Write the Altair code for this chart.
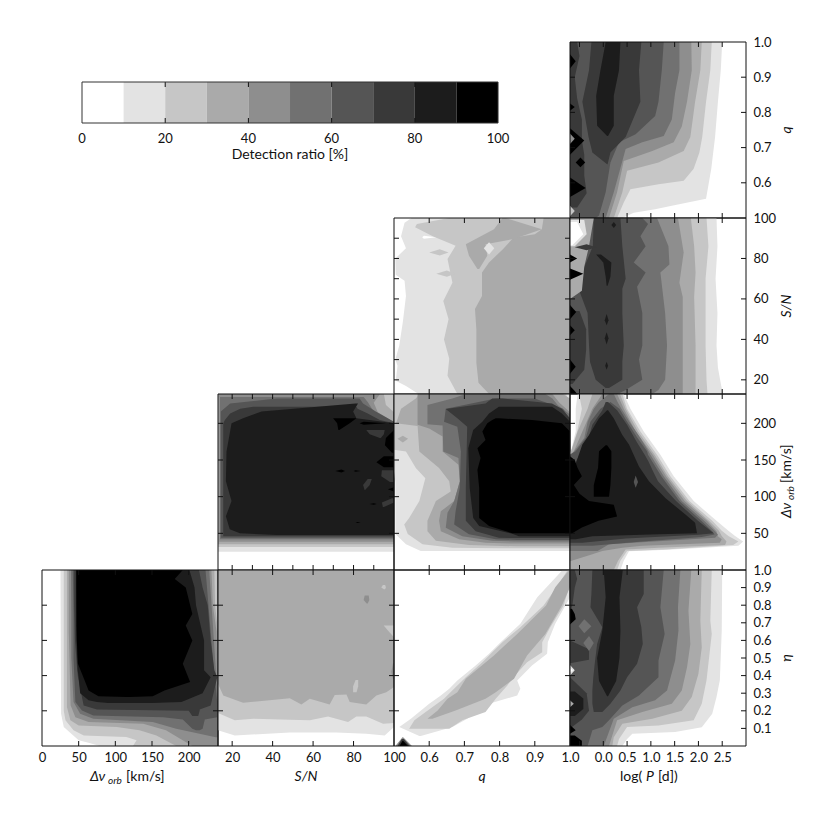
import altair as alt
import pandas as pd

FONT = "Lato"
GRAYS = ["#ffffff", "#e3e3e3", "#c6c6c6", "#aaaaaa", "#8e8e8e", "#717171", "#555555", "#393939", "#1c1c1c", "#000000"]
LEVELS = list(range(10))
BAR_EDGES = [0, 10, 20, 30, 40, 50, 60, 70, 80, 90, 100]
BAR_LABELS = [0, 20, 40, 60, 80, 100]
BAR_TICKS = [20, 40, 60, 80]

DV_DOM = [0, 240]
SN_DOM = [13, 100]
Q_DOM = [0.5, 1.0]
P_DOM = [-0.7, 3.0]
ETA_DOM = [0, 1]

P_TICKS = [-0.5, 0, 0.5, 1, 1.5, 2, 2.5]
P_LABELS = [0, 0.5, 1, 1.5, 2, 2.5]
Q_TICKS = [0.6, 0.7, 0.8, 0.9]
Q_LABELS = [0.6, 0.7, 0.8, 0.9, 1.0]
SN_TICKS10 = [20, 30, 40, 50, 60, 70, 80, 90]
SN_TICKS20 = [20, 40, 60, 80]
SN_LABELS = [20, 40, 60, 80, 100]
DV_TICKS = [50, 100, 150, 200]
DV_LABELS = [0, 50, 100, 150, 200]
ETA_TICKS2 = [0.2, 0.4, 0.6, 0.8]
ETA_TICKS1 = [0.1, 0.2, 0.3, 0.4, 0.5, 0.6, 0.7, 0.8, 0.9]
ETA_LABELS = [0.1, 0.2, 0.3, 0.4, 0.5, 0.6, 0.7, 0.8, 0.9, 1.0]

# Each band: (level, rows along y, left boundaries, right boundaries)
Q_P = [
    (1, [1, .92, .83, .73, .64, .555, .535, .525, .515, .5], -.7, [2.5, 2.47, 2.41, 2.35, 2.27, 2.16, 1.44, 1.09, .64, .40]),
    (2, [1, .92, .83, .73, .686, .64, .606, .596, .582, .544, .5], -.7, [2.28, 2.25, 2.16, 2.08, 2.02, 1.9, 1.69, 1.16, .57, .43, .29]),
    (3, [1, .92, .83, .73, .69, .658, .634, .573, .5], -.7, [2.07, 2.04, 1.93, 1.83, 1.69, 1.16, .5, .4, .22]),
    (4, [1, .92, .83, .76, .715, .69, .662, .573, .5], -.7, [1.85, 1.86, 1.76, 1.65, 1.48, 1.03, .43, .29, .12]),
    (5, [1, .92, .856, .78, .733, .715, .696, .573, .5], -.7, [1.6, 1.6, 1.51, 1.44, 1.27, .82, .47, .22, .05]),
    (6, [1, .92, .83, .79, .738, .715, .658, .573, .507, .5], -.7, [1.27, 1.23, 1.16, 1.09, .68, .33, .15, .05, -.09, -.16]),
    (7, [1, .92, .83, .73, .686, .653], [-.25, -.3, -.44, -.31, -.23, .08], [.8, .75, .78, .47, .15, .09]),
    (8, [1, .92, .847, .762, .733], [.05, -.06, -.15, -.13, .08], [.36, .33, .22, .22, .1]),
    (7, [1, .96, .9, .84, .78, .72, .68, .62, .57, .53], -.7, [-.55, -.5, -.6, -.55, -.45, -.45, -.4, -.4, -.35, -.55]),
    (9, [.965, .945, .925], -.7, [-.7, -.58, -.7]),
    (9, [.825, .815, .805], -.7, [-.7, -.6, -.7]),
    (9, [.755, .72, .68], -.7, [-.7, -.4, -.7]),
    (4, [.74, .725, .71], -.7, [-.7, -.6, -.7]),
    (9, [.672, .658, .644], [-.48, -.58, -.48], [-.48, -.38, -.48]),
    (9, [.615, .585, .56], -.7, [-.7, -.37, -.7]),
    (2, [.535, .52, .505], -.7, [-.7, -.6, -.7]),
]

SN_P = [
    (1, [100, 86, 70, 53, 37, 26, 17, 13], -.7, [2.38, 2.4, 2.36, 2.4, 2.38, 2.41, 2.48, 2.52]),
    (2, [100, 86, 70, 53, 37, 20, 13], -.7, [2.17, 2.21, 2.15, 2.15, 2.15, 2.17, 2.19]),
    (3, [100, 86, 73, 61, 37, 20, 13], -.7, [1.84, 1.91, 1.94, 1.91, 1.94, 1.94, 1.94]),
    (4, [100, 83, 68, 61, 37, 13], -.7, [1.57, 1.69, 1.6, 1.67, 1.67, 1.67]),
    (5, [100, 86, 77, 73, 53, 37, 20, 15, 13], -.7, [1.13, 1.37, 1.39, 1.2, 1.3, 1.34, 1.3, 1.16, 1.03]),
    (6, [100, 97, 91, 86, 78, 73, 66, 53, 37, 30, 20, 15, 13], -.7, [.82, .94, .78, .89, .64, .89, .71, .82, .82, .75, .82, .47, .3]),
    (7, [100, 86, 70, 65, 53, 37, 29, 20, 16], [-.2, -.22, -.5, -.52, -.33, -.3, -.28, -.16, .05], [.36, .4, .47, .4, .4, .43, .4, .4, .12]),
    (8, [82, 78, 71, 66.5], [-.15, 0, .05, .07], [-.05, .17, .15, .09]),
    (8, [52.5, 49.5, 47], [.07, .03, .07], [.07, .11, .07]),
    (8, [43.5, 40.5, 37.5], [.07, .03, .07], [.07, .11, .07]),
    (8, [29, 27, 25], [.07, .04, .07], [.07, .1, .07]),
    (8, [98, 96.5, 95], [.22, .17, .22], [.22, .27, .22]),
    (7, [54, 45, 35, 25, 18], -.7, [-.5, -.36, -.36, -.4, -.65]),
    (3, [100, 86, 76, 64, 60], -.7, [-.2, -.3, -.4, -.45, -.7]),
    (1, [99, 92, 86], -.7, [-.4, -.35, -.6]),
    (0, [98, 92, 86.5], -.7, [-.55, -.42, -.65]),
    (7, [87, 85.5, 84], [-.35, -.6, -.35], [-.35, -.15, -.35]),
    (9, [75, 72.5, 69.5], -.7, [-.7, -.42, -.7]),
    (9, [82, 80, 78], -.7, [-.7, -.55, -.7]),
    (9, [57, 53.5, 50], -.7, [-.7, -.57, -.7]),
    (9, [47, 44.5, 42], -.7, [-.7, -.6, -.7]),
    (9, [30, 26.5, 23], -.7, [-.7, -.58, -.7]),
    (9, [17, 14.5, 13], -.7, [-.7, -.6, -.55]),
]

DV_P = [
    (1, [240, 220, 189, 157, 128, 94, 67, 53.5, 46.5, 39, 33, 27.5, 25.5, 12.5, 0], [-.54, -.58, -.58, -.7, -.7, -.7, -.7, -.7, -.7, -.7, -.7, -.7, -.7, -.7, -.7], [.43, .57, .85, 1.2, 1.48, 1.9, 2.38, 2.63, 2.77, 2.94, 2.84, 1.37, .54, .43, .36]),
    (2, [240, 220, 189, 157, 128, 94, 67, 53.5, 46.5, 39, 34, 28, 26, 12.5, 0], [-.51, -.45, -.55, -.7, -.7, -.7, -.7, -.7, -.7, -.7, -.7, -.7, -.7, -.7, -.7], [.4, .5, .78, 1.13, 1.41, 1.81, 2.29, 2.49, 2.63, 2.84, 2.73, 1.3, .5, .36, .29]),
    (3, [240, 220, 189, 157, 128, 94, 67, 53.5, 46.5, 39, 34, 30.5, 28, 12.5, 0], [-.23, -.33, -.54, -.7, -.7, -.7, -.7, -.7, -.7, -.7, -.7, -.7, -.7, -.7, -.7], [.35, .47, .73, 1.08, 1.36, 1.76, 2.22, 2.43, 2.49, 2.59, 2.56, 1.16, .47, .31, .22]),
    (4, [240, 220, 189, 157, 128, 94, 67, 53, 46, 42, 37, 33, 30.5, 26, 21.5, 12], [-.02, -.23, -.44, -.65, -.7, -.7, -.7, -.7, -.7, -.7, -.7, -.7, -.7, -.7, -.7, -.7], [.29, .43, .68, 1.04, 1.32, 1.71, 2.18, 2.38, 2.41, 2.49, 2.45, .82, .4, -.02, -.23, -.7]),
    (5, [240, 229, 220, 202, 180, 162, 157, 128, 94, 67, 53, 48, 44, 35, 26], [.12, -.09, -.2, -.33, -.4, -.61, -.7, -.7, -.7, -.7, -.7, -.7, -.7, -.7, -.7], [.22, .3, .38, .55, .78, .95, .99, 1.27, 1.65, 2.12, 2.35, 2.41, 2.35, .12, -.12]),
    (6, [229, 220, 202, 180, 162, 157, 128, 94, 67, 53, 48.5, 45, 39, 33], [.15, -.06, -.27, -.37, -.58, -.7, -.7, -.7, -.7, -.7, -.7, -.7, -.7, -.7], [.15, .34, .5, .72, .92, .94, 1.22, 1.6, 2.06, 2.29, 2.34, 2.07, .82, -.23]),
    (7, [229, 218, 198, 175, 157, 148, 134, 121, 94, 67, 50, 48, 43, 37], [.05, -.02, -.23, -.33, -.5, -.57, -.5, -.7, -.7, -.7, -.7, -.7, -.7, -.7], [.1, .29, .5, .7, .87, .95, 1.05, 1.15, 1.53, 1.99, 2.32, 2.0, .47, -.44]),
    (8, [218, 207, 184, 171, 141, 121, 98, 76, 64.5, 50, 48.6, 46, 42], [.08, -.09, -.3, -.44, -.6, -.7, -.7, -.7, -.7, -.7, -.7, -.7, -.7], [.1, .22, .4, .54, .75, .96, 1.31, 1.72, 1.93, 1.97, 1.16, -.23, -.58]),
    (9, [170, 162, 139.5, 116, 100], [.05, -.09, -.11, -.2, -.2], [.08, .17, .17, .15, .12]),
    (9, [155, 150, 139, 128, 116, 104, 94, 89, 73, 67, 58, 49], -.7, [-.7, -.6, -.54, -.45, -.62, -.5, -.3, .22, .29, -.1, -.45, -.68]),
    (6, [129, 120, 112], [.68, .64, .68], [.68, .73, .68]),
]

ETA_P = [
    (1, [1, .656, .373, .278, .183, .107, .079, .07, .04, 0], -.7, [2.5, 2.49, 2.45, 2.38, 2.29, 2.07, 1.51, .61, .5, .4]),
    (2, [1, .713, .637, .373, .24, .146, .117, .108, .04, 0], -.7, [2.28, 2.25, 2.28, 2.17, 2.07, 1.9, 1.16, .5, .33, .29]),
    (3, [1, .713, .56, .41, .278, .2, .155, .127, .05, 0], -.7, [2.07, 2.04, 2.07, 2.0, 1.86, 1.65, 1.03, .4, .22, .19]),
    (4, [1, .77, .58, .448, .316, .24, .193, .146, 0], -.7, [1.85, 1.79, 1.83, 1.76, 1.65, 1.44, .82, .29, .12]),
    (5, [1, .788, .656, .486, .316, .26, .22, .155, 0], -.7, [1.62, 1.57, 1.58, 1.51, 1.34, 1.09, .61, .22, .01]),
    (6, [1, .788, .637, .486, .39, .287, .23, .146, .108, .09, 0], -.7, [1.27, 1.2, 1.29, 1.16, 1.16, .75, .4, .12, -.02, -.23, -.33]),
    (7, [1, .864, .788, .675, .58, .467, .39, .316, .24, .193], [-.23, -.25, -.27, -.02, -.13, -.18, -.21, -.23, -.23, -.2], [.85, .85, .71, .8, .83, .71, .5, .36, .15, -.02]),
    (8, [1, .845, .656, .5, .37, .282], [.01, .05, -.02, -.13, -.09, .08], [.41, .34, .36, .34, .27, .1]),
    (7, [1, .95, .9, .8, .76], -.7, [-.6, -.55, -.6, -.65, -.7]),
    (7, [.6, .55, .49, .47], -.7, [-.7, -.3, -.3, -.7]),
    (7, [.39, .3, .2, .15, .1], -.7, [-.7, -.35, -.3, -.45, -.7]),
    (5, [.72, .68, .64], [-.4, -.52, -.4], [-.4, -.25, -.4]),
    (5, [.625, .585, .54], [-.3, -.42, -.3], [-.3, -.2, -.3]),
    (9, [.78, .75, .72, .69], -.7, [-.66, -.6, -.58, -.7]),
    (8, [.31, .27, .21, .17], -.7, [-.6, -.42, -.42, -.6]),
    (1, [.46, .43, .4], -.7, [-.7, -.6, -.7]),
    (0, [.44, .43, .42], -.7, [-.68, -.64, -.68]),
    (3, [.26, .24, .22], -.7, [-.7, -.62, -.7]),
    (9, [.06, .03, 0], -.7, [-.6, -.45, -.45]),
    (9, [.12, .09, .07], -.7, [-.7, -.58, -.7]),
]

SN_Q = [
    (1, [100, 97.7, 91, 85, 80, 72, 69, 61.5, 48.5, 37, 30, 27, 19.5, 17, 13], [.55, .53, .52, .534, .504, .505, .53, .534, .525, .515, .504, .51, .505, .534, .57], 1),
    (2, [100, 97, 95.4, 91, 86.3, 79.7, 68, 59, 50, 40, 30.4, 22, 13], [.657, .565, .56, .61, .675, .652, .666, .64, .655, .642, .657, .652, .68], 1),
    (3, [100, 94.5, 92, 90.4, 84.7, 78, 73, 61.5, 55, 45, 28.5, 18.6, 13], [.925, .92, .9, .84, .81, .77, .75, .75, .73, .734, .734, .74, .77], 1),
    (3, [100, 94.5, 89.6, 87, 81.4, 74.8], [.808, .784, .732, .704, .713, .737], [.817, .92, .84, .76, .765, .742]),
    (1, [88, 85, 82], [.77, .755, .77], [.77, .785, .77]),
    (2, [84.5, 83, 81.5], [.63, .6, .63], [.63, .655, .63]),
    (2, [74, 72.5, 71], [.65, .62, .65], [.65, .675, .65]),
    (0, [91.2, 90.5, 89.8], [.585, .58, .585], [.585, .62, .585]),
]

DV_Q = [
    (1, [240, 220, 134, 120, 49, 35, 26], [.5, .5, .5, .504, .504, .534, .576], 1),
    (2, [240, 164, 161.5, 139, 125, 94, 71, 62, 49, 35, 30.5, 29.5], [.5, .5, .534, .562, .589, .572, .543, .529, .539, .581, .666, .8], [.99, 1, 1, 1, 1, 1, 1, 1, 1, 1, 1, 1]),
    (3, [240, 234, 220, 200, 196.4, 161.6, 139, 121, 107, 94, 67, 53, 40, 34, 32.3], [.572, .562, .52, .506, .567, .572, .628, .657, .661, .619, .595, .595, .619, .713, .85], [.98, 1, 1, 1, 1, 1, 1, 1, 1, 1, 1, 1, 1, 1, 1]),
    (3, [183, 179, 174], [.525, .51, .525], [.525, .54, .525]),
    (4, [240, 228, 215, 198, 193, 182, 161.6, 143.5, 121, 94, 80, 67, 53, 42, 37, 36], [.567, .567, .567, .567, .6, .638, .638, .683, .687, .671, .633, .628, .633, .685, .76, .85], [.95, .97, 1, 1, 1, 1, 1, 1, 1, 1, 1, 1, 1, 1, 1, 1]),
    (5, [240, 234, 225, 212, 198.6, 197, 161.6, 152.6, 121, 94, 78, 57.6, 46, 40, 39], [.704, .666, .595, .595, .595, .638, .64, .683, .687, .671, .652, .647, .694, .779, .85], [.93, .95, .965, 1, 1, 1, 1, 1, 1, 1, 1, 1, 1, 1, 1]),
    (6, [234, 220, 205, 202, 195.5, 161.6, 112, 80, 62, 48.6, 42, 41], [.789, .647, .643, .642, .68, .69, .687, .675, .671, .713, .789, .85], [.9, .98, 1, 1, 1, 1, 1, 1, 1, 1, 1, 1]),
    (7, [234, 227, 219.4, 207, 195.5, 112, 85, 67, 53, 44, 43.5], [.779, .76, .647, .68, .708, .704, .704, .704, .732, .798, .85], [.808, .949, .977, 1, 1, 1, 1, 1, 1, 1, 1]),
    (8, [222.6, 213.5, 202, 191, 166, 112, 71, 60, 49.5, 46], [.798, .77, .751, .725, .711, .715, .725, .742, .836, .855], [.949, .977, 1, 1, 1, 1, 1, 1, 1, 1]),
    (9, [206.8, 204.5, 200, 188.7, 177.4, 166, 152.6, 136.7, 112, 71, 60, 50], [.789, .779, .765, .751, .76, .737, .746, .737, .742, .742, .77, .836], [.798, .892, .977, 1, 1, 1, 1, 1, 1, 1, 1, 1]),
]

ETA_Q = [
    (1, [.996, .845, .694, .59, .524, .457, .372, .325, .287, .24, .155, .108, .057], [.977, .907, .859, .803, .77, .732, .68, .657, .633, .6, .548, .515, .572], [1, 1, .958, .937, .935, .892, .85, .859, .85, .77, .708, .666, .576]),
    (2, [.996, .92, .798, .675, .59, .533, .476, .39, .344, .268, .193, .146, .098], [.992, .968, .925, .859, .808, .779, .751, .704, .68, .642, .59, .558, .543], [1, 1, .982, .944, .921, .921, .878, .839, .822, .789, .76, .694, .657]),
    (3, [.996, .902, .798, .637, .514, .382, .306, .268, .202, .155], [.996, .958, .932, .85, .784, .704, .68, .652, .624, .595], [1, 1, .977, .93, .878, .841, .789, .76, .675, .609]),
    (4, [.05, 0], [.524, .504], [.526, .551]),
    (7, [.04, 0], [.522, .51], [.528, .545]),
    (9, [.03, 0], [.524, .516], [.526, .54]),
]

DV_SN = [
    (1, [240, 25], 13, 100),
    (2, [240, 31.5], 13, 100),
    (3, [240, 225, 215, 35], 13, [95, 96, 100, 100]),
    (4, [240, 228, 215, 205, 200, 38.5], 13.6, [93, 90, 92, 98, 100, 100]),
    (5, [236, 229, 216, 204, 200, 42], 14, [85, 87, 90, 98, 100, 100]),
    (6, [234, 227, 216, 202, 44], [42, 19, 14.4, 14.4, 14.4], [83, 84.7, 91, 100, 100]),
    (7, [222.6, 220, 213.5, 204.5, 200, 46], [30.4, 24, 19, 16.4, 15.6, 15.6], [81.4, 82, 87, 93, 100, 100]),
    (8, [227, 216, 207, 200, 161.6, 121, 94, 73.4, 55.4, 50, 47.7], [81, 34.5, 25.4, 19.7, 17.2, 16.9, 19.7, 16.9, 18.8, 23.8, 42], [82.2, 79.8, 81.4, 100, 100, 100, 100, 100, 100, 100, 100]),
    (9, [207, 200, 191], [69.9, 71.9, 72.5], [81.4, 78.1, 73]),
    (9, [202, 200, 198], [85, 83, 85], [85, 96, 85]),
    (7, [191, 185, 180], [86.3, 88, 93], [95.4, 95, 93.5]),
    (9, [191, 180, 170, 160], [100, 96, 95.5, 99], 100),
    (9, [155, 147, 140], [95, 91.3, 95], 100),
    (7, [136, 128, 120], [94, 93.7, 98], 100),
    (7, [124, 116, 109], [87, 84.7, 85.5], [89, 88, 85.7]),
    (9, [137, 135, 133], [74, 71, 74], [74, 75.8, 74]),
    (9, [136, 135, 134], [81, 80, 81], [81, 83.5, 81]),
    (9, [113, 110, 107], [100, 97, 100], 100),
    (9, [91, 90, 89], [90, 88, 90], [90, 91.5, 90]),
    (7, [98, 92, 86], [99, 94, 94.5], [100, 100, 95]),
    (9, [65.5, 64.8, 64], [82, 81, 82], [82, 83.5, 82]),
]

# Columns along S/N: (level, S/N, lower boundary of eta, upper)
ETA_SN_COLS = [
    (1, [13, 21.3, 48.5, 71.5, 86.3, 95.4, 100], [.089, .06, .076, .076, .07, .06, .108], 1),
    (2, [13, 21.3, 30.4, 48.5, 58.4, 67.4, 77.3, 81.4, 86.3, 94.6, 100], [.187, .146, .155, .149, .146, .168, .136, .168, .168, .127, .13], 1),
    (3, [13, 15.6, 25.4, 48.5, 54.2, 58.4, 68.2, 70.7, 76.5, 78.1, 86.3, 91.3, 96.2, 100], [.353, .287, .246, .272, .236, .268, .236, .29, .293, .25, .236, .287, .306, .335], 1),
]
ETA_SN = [
    (2, [.684, .656, .618], [94.9, 97, 100], 100),
    (2, [.915, .9, .89], [94.5, 93.7, 95], [95.6, 96, 95.6]),
    (2, [.375, .34, .305], [81, 79.8, 79.8], [82.3, 82.3, 81.5]),
    (4, [.855, .83, .81], [85.5, 85, 86.5], [87.5, 87.8, 87]),
    (4, [.47, .42, .38], [99.5, 98.7, 99.5], 100),
]

ETA_DV = [
    (1, [1, .183, .108, .032, .019, 0], [25.2, 26, 29.7, 50, 63.5, 79], 240),
    (2, [1, .2, .146, .089, .06, .051, .032, 0], [29.7, 29.7, 32, 43, 57, 115, 129, 124], 240),
    (3, [1, .8, .65, .221, .146, .117, .108, .089, .06, 0], [34, 34, 34, 34, 38.7, 50, 102, 133, 156, 183], [235, 236, 240, 240, 240, 240, 240, 240, 240, 240]),
    (4, [1, .8, .65, .231, .164, .136, .127, .089, 0], [36.5, 36.5, 36.5, 39, 45.5, 63.5, 138, 169, 205], [231, 233, 238, 240, 240, 240, 240, 240, 240]),
    (5, [1, .75, .5, .25, .183, .155, .136, .098, .05], [39.6, 40, 40, 43, 52, 70, 151, 183, 237], [228, 232, 236, 240, 240, 240, 240, 240, 240]),
    (6, [1, .75, .5, .25, .202, .174, .164, .15, .098, .09], [42, 43, 43, 45.5, 54.5, 70, 165, 192, 205, 210], [223, 228, 233, 239, 239, 239, 239, 222, 219, 215]),
    (7, [1, .9, .8, .6, .43, .39, .23, .208, .2, .17], [44, 44, 44, 45, 48, 49, 56.8, 75, 200, 205], [214, 219, 226, 230, 235, 239, 230, 215, 215, 213]),
    (8, [1, .9, .8, .6, .43, .39, .3, .26, .25, .244], [46.8, 46.8, 46.8, 47, 48.6, 50, 52, 63.5, 75, 90], [201, 208, 210, 221, 221, 230, 219, 196, 190, 150]),
    (9, [1, .949, .9, .75, .684, .6, .467, .363, .316, .282, .278], [46.8, 46.8, 46.8, 47, 47, 47.5, 49, 59, 63.5, 77, 115], [192, 181, 196, 205, 196, 205, 192, 202, 167, 151, 120]),
]

W = 176
TICK = 5
INK = "#111111"
ONE = pd.DataFrame({"a": [0]})


def table(bands):
    rows = []
    for b, (lev, along, lo, hi) in enumerate(bands):
        for i, a in enumerate(along):
            rows.append({
                "band": b, "lev": lev, "a": a,
                "lo": lo[i] if isinstance(lo, list) else lo,
                "hi": hi[i] if isinstance(hi, list) else hi,
            })
    return pd.DataFrame(rows)


def label_axis(values, orient, fmt):
    return alt.Axis(values=values, orient=orient, format=fmt, title=None, ticks=False, domain=False, grid=False,
                    labelOverlap=False, labelFlush=False, labelBound=False, labelPadding=7 if orient == "right" else 5)


def text_part(text, x, y, size=14, style="normal", angle=0, align="left"):
    return alt.Chart(pd.DataFrame({"t": [text]})).mark_text(
        font=FONT, fontSize=size, fontStyle=style, angle=angle, align=align, baseline="middle", color=INK
    ).encode(text="t:N", x=alt.value(x), y=alt.value(y))


def panel(bands, xd, yd, xt, yt, xlab=None, xfmt="d", ylab=None, yfmt="d", ylt=None, cols=None, titles=()):
    xs = alt.Scale(domain=xd, nice=False, zero=False)
    ys = alt.Scale(domain=yd, nice=False, zero=False)
    xa = label_axis(xlab, "bottom", xfmt) if xlab else None
    ya = label_axis(ylab, "right", yfmt) if ylab else None
    cscale = alt.Scale(domain=LEVELS, range=GRAYS)
    layers = []
    if cols:
        layers.append(alt.Chart(table(cols)).mark_area(orient="vertical", clip=True).encode(
            x=alt.X("a:Q", scale=xs, axis=xa),
            y=alt.Y("lo:Q", scale=ys, axis=ya), y2="hi:Q",
            color=alt.Color("lev:O", scale=cscale, legend=None), detail="band:N"))
    layers.append(alt.Chart(table(bands)).mark_area(orient="horizontal", clip=True).encode(
        y=alt.Y("a:Q", scale=ys, axis=ya),
        x=alt.X("lo:Q", scale=xs, axis=xa), x2="hi:Q",
        color=alt.Color("lev:O", scale=cscale, legend=None), detail="band:N"))
    xdf = pd.DataFrame({"t": xt})
    for a, b in ((0, TICK), (W - TICK, W)):
        layers.append(alt.Chart(xdf).mark_rule(color=INK, strokeWidth=1).encode(
            x=alt.X("t:Q", scale=xs, axis=xa), y=alt.value(a), y2=alt.value(b)))
    for ticks, a, b in ((ylt or yt, 0, TICK), (yt, W - TICK, W)):
        layers.append(alt.Chart(pd.DataFrame({"t": ticks})).mark_rule(color=INK, strokeWidth=1).encode(
            y=alt.Y("t:Q", scale=ys, axis=ya), x=alt.value(a), x2=alt.value(b)))
    layers.append(alt.Chart(ONE).mark_rect(fillOpacity=0, stroke=INK, strokeWidth=1).encode(
        x=alt.value(0), x2=alt.value(W), y=alt.value(0), y2=alt.value(W)))
    layers.extend(titles)
    return alt.layer(*layers).resolve_scale(color="shared").properties(width=W, height=W)


def blank():
    return alt.Chart(ONE).mark_point(opacity=0).encode(x=alt.value(0), y=alt.value(0)).properties(width=W, height=W)


def colorbar():
    # 4.16 px per percent across a plot area 176 px wide; the bar runs on beyond the cell
    xs = alt.Scale(domain=[-9.615, 32.69], nice=False, zero=False)
    bar = pd.DataFrame({"lo": BAR_EDGES[:-1], "hi": BAR_EDGES[1:], "lev": LEVELS})
    rects = alt.Chart(bar).mark_rect().encode(
        x=alt.X("lo:Q", scale=xs, axis=None), x2="hi:Q", y=alt.value(40), y2=alt.value(81),
        color=alt.Color("lev:O", scale=alt.Scale(domain=LEVELS, range=GRAYS), legend=None))
    tdf = pd.DataFrame({"t": BAR_TICKS})
    t1 = alt.Chart(tdf).mark_rule(color=INK).encode(x=alt.X("t:Q", scale=xs, axis=None), y=alt.value(40), y2=alt.value(45))
    t2 = alt.Chart(tdf).mark_rule(color=INK).encode(x=alt.X("t:Q", scale=xs, axis=None), y=alt.value(76), y2=alt.value(81))
    frame = alt.Chart(pd.DataFrame({"lo": [BAR_EDGES[0]], "hi": [BAR_EDGES[-1]]})).mark_rect(
        fillOpacity=0, stroke="#333333", strokeWidth=1).encode(
        x=alt.X("lo:Q", scale=xs, axis=None), x2="hi:Q", y=alt.value(40), y2=alt.value(81))
    labels = alt.Chart(pd.DataFrame({"t": BAR_LABELS})).mark_text(
        font=FONT, fontSize=13, baseline="middle", color=INK).encode(
        x=alt.X("t:Q", scale=xs, axis=None), y=alt.value(97), text="t:Q")
    title = text_part("Detection ratio [%]", 248, 113, align="center")
    return alt.layer(rects, t1, t2, frame, labels, title).properties(width=W, height=W)


XT = 207
RT = 217
cells = [
    colorbar(), blank(), blank(),
    panel(Q_P, P_DOM, Q_DOM, P_TICKS, Q_TICKS, ylab=Q_LABELS, yfmt=".1f",
          titles=[text_part("q", RT, 88, style="italic", angle=270, align="center")]),
    blank(), blank(),
    panel(SN_Q, Q_DOM, SN_DOM, Q_TICKS, SN_TICKS10),
    panel(SN_P, P_DOM, SN_DOM, P_TICKS, SN_TICKS20, ylab=SN_LABELS,
          titles=[text_part("S/N", RT, 88, style="italic", angle=270, align="center")]),
    blank(),
    panel(DV_SN, SN_DOM, DV_DOM, SN_TICKS10, DV_TICKS),
    panel(DV_Q, Q_DOM, DV_DOM, Q_TICKS, DV_TICKS),
    panel(DV_P, P_DOM, DV_DOM, P_TICKS, DV_TICKS, ylab=DV_TICKS,
          titles=[text_part("Δν", RT, 124, style="italic", angle=270),
                  text_part("orb", RT + 4, 106, size=10, style="italic", angle=270),
                  text_part("[km/s]", RT, 89, angle=270)]),
    panel(ETA_DV, DV_DOM, ETA_DOM, DV_TICKS, ETA_TICKS2, xlab=DV_LABELS,
          titles=[text_part("Δν", 48, XT, style="italic"),
                  text_part("orb", 66, XT + 4, size=10, style="italic"),
                  text_part("[km/s]", 84, XT)]),
    panel(ETA_SN, SN_DOM, ETA_DOM, SN_TICKS20, ETA_TICKS2, xlab=SN_LABELS, cols=ETA_SN_COLS,
          titles=[text_part("S/N", 88, XT, style="italic", align="center")]),
    panel(ETA_Q, Q_DOM, ETA_DOM, Q_TICKS, ETA_TICKS2, xlab=Q_LABELS, xfmt=".1f",
          titles=[text_part("q", 88, XT, style="italic", align="center")]),
    panel(ETA_P, P_DOM, ETA_DOM, P_TICKS, ETA_TICKS1, xlab=P_LABELS, xfmt=".1f", ylab=ETA_LABELS, yfmt=".1f", ylt=ETA_TICKS2,
          titles=[text_part("log(", 50, XT),
                  text_part("P", 76, XT, style="italic"),
                  text_part("[d])", 88, XT),
                  text_part("η", RT, 88, style="italic", angle=270, align="center")]),
]

chart = alt.concat(*cells, columns=4, spacing=0, bounds="flush").properties(
    padding={"left": 30, "top": 28, "right": 5, "bottom": 5}
).configure_view(stroke=None).configure_axis(labelFont=FONT, labelFontSize=13, labelColor=INK)

chart.save("out.html", embed_options={"renderer": "svg", "actions": False})
